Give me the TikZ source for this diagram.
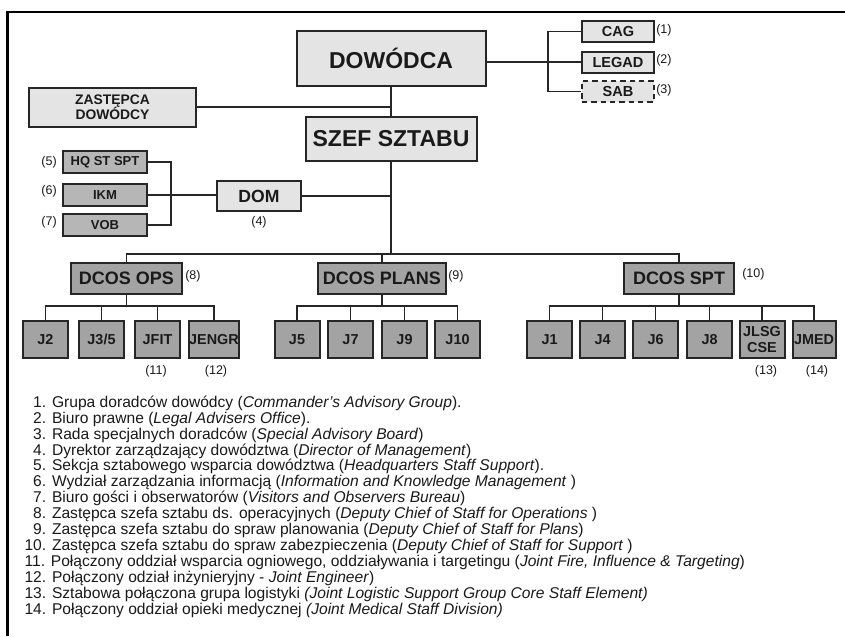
\documentclass[tikz,border=0pt]{standalone}
\usepackage{fontspec}
\setmainfont{Liberation Sans}
\definecolor{ink}{HTML}{1A1A1A}
\definecolor{edge}{HTML}{262626}
\definecolor{boxlight}{HTML}{E4E4E4}
\definecolor{boxmid}{HTML}{B6B6B6}
\definecolor{boxdark}{HTML}{A3A3A3}
\begin{document}
\begin{tikzpicture}[x=0.75pt,y=-0.75pt,
  every node/.style={text=ink},
  orgbox/.style={draw=edge, line width=1.5pt, inner sep=0pt, align=center, font=\bfseries},
  lightbox/.style={orgbox, fill=boxlight},
  midbox/.style={orgbox, fill=boxmid, minimum width=63pt, minimum height=16.5pt, font=\bfseries\fontsize{9.75}{11}\selectfont},
  advbox/.style={lightbox, minimum width=54pt, minimum height=15.75pt, font=\bfseries\fontsize{10.9}{12}\selectfont},
  dcosbox/.style={orgbox, fill=boxdark, minimum height=23.25pt, font=\bfseries\fontsize{13.5}{15}\selectfont},
  jbox/.style={orgbox, fill=boxdark, minimum width=33.75pt, minimum height=27.75pt, font=\bfseries\fontsize{10.8}{12}\selectfont},
  link/.style={draw=edge, line width=1.25pt},
  frameline/.style={draw=black, line width=2.1pt},
  numlabel/.style={inner sep=0pt, font=\fontsize{9.4}{11}\selectfont},
  note/.style={anchor=base west, inner sep=0pt, font=\fontsize{11.7}{13}\selectfont}
]
\useasboundingbox (0,0) rectangle (845,636);
\fill[white] (0,0) rectangle (845,636);

% frame: top and left rules
\draw[frameline] (845,12) -- (7.5,12) -- (7.5,636);

% command level
\node[lightbox, minimum width=141.75pt, minimum height=41.25pt, font=\bfseries\fontsize{17.25}{19}\selectfont] (dow) at (391,58.5) {DOWÓDCA};
\node[lightbox, minimum width=125.25pt, minimum height=29.25pt, font=\bfseries\fontsize{10.4}{11.6}\selectfont] (zast) at (112.5,107) {ZASTĘPCA\\DOWÓDCY};
\node[lightbox, minimum width=128.25pt, minimum height=33pt, font=\bfseries\fontsize{17.25}{19}\selectfont] (szef) at (391,139) {SZEF SZTABU};
\node[lightbox, minimum width=63pt, minimum height=22.5pt, font=\bfseries\fontsize{13.2}{15}\selectfont] (dom) at (259,196) {DOM};

% advisory bodies
\node[advbox] (cag) at (618,31.5) {CAG};
\node[advbox] (legad) at (618,62) {LEGAD};
\node[advbox, dashed, dash pattern=on 4pt off 3pt] (sab) at (618,91.5) {SAB};

% headquarters support cells
\node[midbox] (hq) at (105,162) {HQ ST SPT};
\node[midbox] (ikm) at (105,195) {IKM};
\node[midbox] (vob) at (105,225) {VOB};

% deputy chiefs of staff
\node[dcosbox, minimum width=83.25pt] (ops) at (126.5,278.5) {DCOS OPS};
\node[dcosbox, minimum width=96pt] (plans) at (382,278.5) {DCOS PLANS};
\node[dcosbox, minimum width=82.5pt] (spt) at (679,278.5) {DCOS SPT};

% J-branches
\node[jbox] (j2) at (45.5,339.5) {J2};
\node[jbox] (j35) at (101.5,339.5) {J3/5};
\node[jbox] (jfit) at (157.5,339.5) {JFIT};
\node[jbox] (jengr) at (214,339.5) {JENGR};
\node[jbox] (j5) at (297,339.5) {J5};
\node[jbox] (j7) at (350.5,339.5) {J7};
\node[jbox] (j9) at (404.5,339.5) {J9};
\node[jbox] (j10) at (457.5,339.5) {J10};
\node[jbox] (j1) at (549.5,339.5) {J1};
\node[jbox] (j4) at (602.5,339.5) {J4};
\node[jbox] (j6) at (655.5,339.5) {J6};
\node[jbox] (j8) at (709.5,339.5) {J8};
\node[jbox, font=\bfseries\fontsize{10.8}{12.5}\selectfont] (jlsg) at (762,339.5) {JLSG\\CSE};
\node[jbox, minimum width=32.25pt] (jmed) at (814,339.5) {JMED};

% reference numbers
\node[numlabel, anchor=west] (n1) at (656,30) {(1)};
\node[numlabel, anchor=west] (n2) at (656,60) {(2)};
\node[numlabel, anchor=west] (n3) at (656,90) {(3)};
\node[numlabel] (n4) at (259,222) {(4)};
\node[numlabel, anchor=east] (n5) at (57,162) {(5)};
\node[numlabel, anchor=east] (n6) at (57,191) {(6)};
\node[numlabel, anchor=east] (n7) at (57,222) {(7)};
\node[numlabel, anchor=west] (n8) at (185,276) {(8)};
\node[numlabel, anchor=west] (n9) at (448,276) {(9)};
\node[numlabel, anchor=west] (n10) at (742,274) {(10)};
\node[numlabel] (n11) at (156,371) {(11)};
\node[numlabel] (n12) at (216,371) {(12)};
\node[numlabel] (n13) at (766,371) {(13)};
\node[numlabel] (n14) at (817,371) {(14)};

% connector levels
\coordinate (bus) at (391,254);
\coordinate (lvl3) at (0,306);
\coordinate (lbr) at (171,0);
\coordinate (rbr) at (548,0);

% main trunk
\draw[link] (dow.south) -- (szef.north);
\draw[link] (szef.south) -- (bus);
\draw[link] (zast.east) -- (zast.east -| dow.south);
\draw[link] (dom.east) -- (dom.east -| szef.south);

% advisory bracket
\draw[link] (legad.west) -- (legad.west -| dow.east);
\draw[link] (cag.west) -- (cag.west -| rbr) -- (sab.west -| rbr) -- (sab.west);

% support bracket
\draw[link] (hq.east) -- (hq.east -| lbr) -- (vob.east -| lbr) -- (vob.east);
\draw[link] (ikm.east) -- (ikm.east -| dom.west);

% deputy chiefs bus
\draw[link] (ops.north) -- (ops.north |- bus) -- (spt.north |- bus) -- (spt.north);
\draw[link] (plans.north) -- (plans.north |- bus);

% branch buses
\draw[link] (ops.south) -- (ops.south |- lvl3);
\draw[link] (j2.north) -- (j2.north |- lvl3) -- (jengr.north |- lvl3) -- (jengr.north);
\foreach \b in {j35,jfit} \draw[link] (\b.north) -- (\b.north |- lvl3);

\draw[link] (plans.south) -- (plans.south |- lvl3);
\draw[link] (j5.north) -- (j5.north |- lvl3) -- (j10.north |- lvl3) -- (j10.north);
\foreach \b in {j7,j9} \draw[link] (\b.north) -- (\b.north |- lvl3);

\draw[link] (spt.south) -- (spt.south |- lvl3);
\draw[link] (j1.north) -- (j1.north |- lvl3) -- (jmed.north |- lvl3) -- (jmed.north);
\foreach \b in {j4,j6,j8,jlsg} \draw[link] (\b.north) -- (\b.north |- lvl3);

% glossary
\node[note] (g1) at (24.3,407.3) {\phantom{1}1. Grupa doradców dowódcy (\textit{Commander's Advisory Group}).};
\node[note] (g2) at (24.3,423.2) {\phantom{1}2. Biuro prawne (\textit{Legal Advisers Office}).};
\node[note] (g3) at (24.3,439.1) {\phantom{1}3. Rada specjalnych doradców (\textit{Special Advisory Board})};
\node[note] (g4) at (24.3,455.0) {\phantom{1}4. Dyrektor zarządzający dowództwa (\textit{Director of Management})};
\node[note] (g5) at (24.3,470.9) {\phantom{1}5. Sekcja sztabowego wsparcia dowództwa (\textit{Headquarters Staff Support}).};
\node[note] (g6) at (24.3,486.8) {\phantom{1}6. Wydział zarządzania informacją (\textit{Information and Knowledge Management} )};
\node[note] (g7) at (24.3,502.7) {\phantom{1}7. Biuro gości i obserwatorów (\textit{Visitors and Observers Bureau})};
\node[note] (g8) at (24.3,518.6) {\phantom{1}8. Zastępca szefa sztabu ds. operacyjnych (\textit{Deputy Chief of Staff for Operations} )};
\node[note] (g9) at (24.3,534.5) {\phantom{1}9. Zastępca szefa sztabu do spraw planowania (\textit{Deputy Chief of Staff for Plans})};
\node[note] (g10) at (24.3,550.4) {10. Zastępca szefa sztabu do spraw zabezpieczenia (\textit{Deputy Chief of Staff for Support} )};
\node[note] (g11) at (24.3,566.3) {11. Połączony oddział wsparcia ogniowego, oddziaływania i targetingu (\textit{Joint Fire, Influence \& Targeting})};
\node[note] (g12) at (24.3,582.2) {12. Połączony odział inżynieryjny - \textit{Joint Engineer})};
\node[note] (g13) at (24.3,598.1) {13. Sztabowa połączona grupa logistyki \textit{(Joint Logistic Support Group Core Staff Element)}};
\node[note] (g14) at (24.3,614.0) {14. Połączony oddział opieki medycznej \textit{(Joint Medical Staff Division)}};
\end{tikzpicture}
\end{document}
